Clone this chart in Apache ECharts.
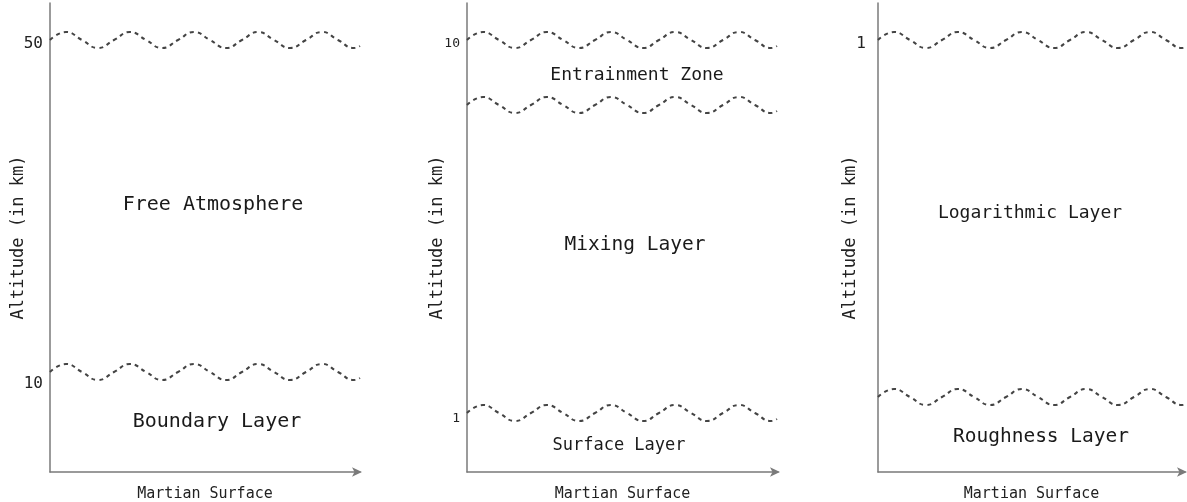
<!DOCTYPE html>
<html>
<head>
<meta charset="utf-8">
<script src="https://cdn.jsdelivr.net/npm/echarts@6/dist/echarts.min.js"></script>
<style>
html,body{margin:0;padding:0;background:#fff;}
#chart{width:1187px;height:502px;}
</style>
</head>
<body>
<div id="chart"></div>
<script>
// Schematic units: x in [0, panel width], y in [0, 469] (bottom = surface)
const waveX = [0,16,32,48,64,80,96,112,128,144,160,176,192,208,224,240,256,272,288,304,310];
const waveShape = [0,8,0,-8,0,8,0,-8,0,8,0,-8,0,8,0,-8,0,8,0,-8,-6];

const panel1WaveLevels = [432, 100];
const panel2WaveLevels = [432, 367, 59];
const panel3WaveLevels = [432, 75];

const panel1TickValues = [428, 88];
const panel1TickLabels = ['50', '10'];
const panel2TickValues = [428, 53];
const panel2TickLabels = ['10', '1'];
const panel3TickValues = [428];
const panel3TickLabels = ['1'];

const panel1LayerNames = ['Free Atmosphere', 'Boundary Layer'];
const panel1LayerX = [163, 167];
const panel1LayerY = [267, 50];
const panel1LayerSize = [20, 20];
const panel2LayerNames = ['Entrainment Zone', 'Mixing Layer', 'Surface Layer'];
const panel2LayerX = [170, 168, 152];
const panel2LayerY = [397, 227, 26];
const panel2LayerSize = [18, 19.5, 17];
const panel3LayerNames = ['Logarithmic Layer', 'Roughness Layer'];
const panel3LayerX = [152, 163];
const panel3LayerY = [259, 35];
const panel3LayerSize = [18, 19.5];

const xAxisName = 'Martian Surface';
const yAxisName = 'Altitude (in km)';

const FONT = 'DejaVu Sans Mono';
const panels = [
  {left: 50, width: 310, levels: panel1WaveLevels, tv: panel1TickValues, tl: panel1TickLabels, tsize: 16, tmargin: 7,
   names: panel1LayerNames, lx: panel1LayerX, ly: panel1LayerY, ls: panel1LayerSize, ygap: 23},
  {left: 467, width: 311, levels: panel2WaveLevels, tv: panel2TickValues, tl: panel2TickLabels, tsize: 13, tmargin: 7,
   names: panel2LayerNames, lx: panel2LayerX, ly: panel2LayerY, ls: panel2LayerSize, ygap: 21},
  {left: 878, width: 307, levels: panel3WaveLevels, tv: panel3TickValues, tl: panel3TickLabels, tsize: 16, tmargin: 12,
   names: panel3LayerNames, lx: panel3LayerX, ly: panel3LayerY, ls: panel3LayerSize, ygap: 19}
];

const grid = [], xAxis = [], yAxis = [], series = [];
panels.forEach((p, i) => {
  grid.push({left: p.left, top: 3, width: p.width, height: 469, containLabel: false, outerBoundsMode: 'none'});
  xAxis.push({
    type: 'value', gridIndex: i, min: 0, max: p.width,
    name: xAxisName, nameLocation: 'middle', nameGap: 15, nameMoveOverlap: false,
    nameTextStyle: {fontFamily: FONT, fontSize: 15, color: '#222'},
    axisLine: {show: true, symbol: ['none', 'arrow'], symbolSize: [7, 10], symbolOffset: [0, 2],
               lineStyle: {color: '#7a7a7a', width: 1.5}},
    axisTick: {show: false}, axisLabel: {show: false}, splitLine: {show: false}
  });
  const tv = p.tv, tl = p.tl;
  yAxis.push({
    type: 'value', gridIndex: i, min: 0, max: 469,
    name: yAxisName, nameLocation: 'middle', nameGap: p.ygap, nameRotate: 90, nameMoveOverlap: false,
    nameTextStyle: {fontFamily: FONT, fontSize: 17, color: '#222'},
    axisLine: {show: true, lineStyle: {color: '#7a7a7a', width: 1.5}},
    axisTick: {show: false},
    splitLine: {show: false},
    axisLabel: {
      show: true, customValues: tv, margin: p.tmargin,
      fontFamily: FONT, fontSize: p.tsize, color: '#222',
      formatter: (v) => { const k = tv.indexOf(v); return k >= 0 ? tl[k] : ''; }
    }
  });
  p.levels.forEach((lv) => {
    series.push({
      type: 'line', xAxisIndex: i, yAxisIndex: i, smooth: 0.5, symbol: 'none', silent: true,
      lineStyle: {color: '#444', width: 2, type: [4, 4]},
      data: waveX.map((x, k) => [x, lv + waveShape[k]])
    });
  });
  series.push({
    type: 'scatter', xAxisIndex: i, yAxisIndex: i, symbolSize: 1, silent: true,
    itemStyle: {color: 'rgba(0,0,0,0)', opacity: 1},
    label: {show: true, position: 'inside', formatter: (d) => d.value[2],
            fontFamily: FONT, color: '#1a1a1a'},
    data: p.names.map((n, k) => ({value: [p.lx[k], p.ly[k], n], label: {fontSize: p.ls[k]}}))
  });
});

const chart = echarts.init(document.getElementById('chart'), null, {renderer: 'canvas'});
chart.setOption({animation: false, backgroundColor: '#fff', grid, xAxis, yAxis, series});
</script>
</body>
</html>
